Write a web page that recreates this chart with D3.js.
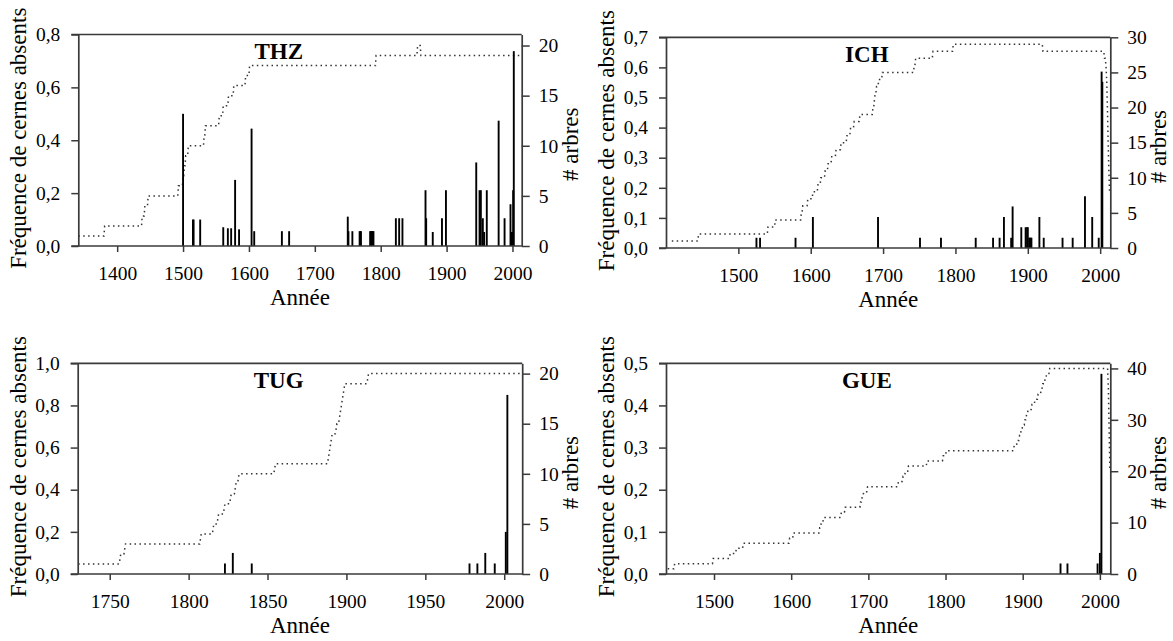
<!DOCTYPE html>
<html><head><meta charset="utf-8">
<script src="https://cdn.jsdelivr.net/npm/d3@7"></script>
<style>
html,body{margin:0;padding:0;background:#fff;}
svg{display:block;font-family:"Liberation Serif","Times New Roman",serif;}
</style></head><body>
<svg id="chart" width="1173" height="641"></svg>
<script>
// ---------- THZ ----------
const thzYearRange = [1341, 2014];
const thzBarYears = [1500,1515,1516,1526,1561,1568,1573,1579,1585,1604,1608,1650,1661,1750,1751,1757,1768,1769,1770,1784,1785,1786,1787,1788,1789,1823,1828,1833,1868,1869,1879,1893,1899,1945,1950,1952,1955,1957,1961,1979,1988,1997,1999,2000,2001,2002];
const thzBarFreq  = [0.5,0.1,0.1,0.1,0.071,0.067,0.067,0.25,0.063,0.444,0.056,0.056,0.056,0.111,0.056,0.056,0.056,0.056,0.056,0.056,0.056,0.056,0.056,0.056,0.056,0.105,0.105,0.105,0.211,0.105,0.053,0.105,0.211,0.316,0.211,0.211,0.105,0.053,0.211,0.474,0.105,0.158,0.053,0.053,0.211,0.737];
const thzTreeYears  = [1341,1381,1438,1442,1447,1493,1500,1502,1504,1508,1532,1534,1555,1561,1569,1577,1595,1601,1793,1856,1861,2013];
const thzTreeCounts = [1,2,3,4,5,6,7,8,9,10,11,12,13,14,15,16,17,18,19,20,19,19];
const thzFreqTicks = [0,0.2,0.4,0.6,0.8];
const thzTreeTicks = [0,5,10,15,20];
const thzYearTicks = [1400,1500,1600,1700,1800,1900,2000];

// ---------- ICH ----------
const ichYearRange = [1400, 2014];
const ichBarYears = [1525,1530,1579,1603,1693,1751,1780,1828,1852,1861,1867,1877,1879,1891,1897,1899,1900,1902,1903,1904,1905,1916,1922,1948,1962,1979,1989,1998,2002,2003];
const ichBarFreq  = [0.034,0.034,0.034,0.103,0.103,0.034,0.034,0.034,0.034,0.034,0.103,0.034,0.138,0.069,0.069,0.069,0.069,0.034,0.034,0.034,0.034,0.103,0.034,0.034,0.034,0.172,0.103,0.034,0.586,0.552];
const ichTreeYears  = [1408,1445,1541,1551,1587,1589,1596,1603,1610,1614,1620,1624,1629,1635,1642,1650,1655,1660,1668,1686,1688,1689,1691,1694,1699,1743,1745,1769,1797,1921,2006,2008,2009,2010,2011,2012,2013];
const ichTreeCounts = [1,2,3,4,5,6,7,8,9,10,11,12,13,14,15,16,17,18,19,20,21,22,23,24,25,26,27,28,29,28,27,26,24,20,15,11,8];
const ichFreqTicks = [0,0.1,0.2,0.3,0.4,0.5,0.6,0.7];
const ichTreeTicks = [0,5,10,15,20,25,30];
const ichYearTicks = [1500,1600,1700,1800,1900,2000];

// ---------- TUG ----------
const tugYearRange = [1729.7, 2011.4];
const tugBarYears = [1823,1828,1840,1978,1983,1988,1994,2001,2002];
const tugBarFreq  = [0.05,0.1,0.05,0.05,0.05,0.1,0.05,0.2,0.85];
const tugTreeYears  = [1730,1757,1760,1808,1816,1819,1823,1827,1830,1832,1855,1889,1890,1891,1894,1896,1897,1898,1899,1914,2011];
const tugTreeCounts = [1,2,3,4,5,6,7,8,9,10,11,12,13,14,15,16,17,18,19,20,20];
const tugFreqTicks = [0,0.2,0.4,0.6,0.8,1.0];
const tugTreeTicks = [0,5,10,15,20];
const tugYearTicks = [1750,1800,1850,1900,1950,2000];

// ---------- GUE ----------
const gueYearRange = [1437.8, 2013.5];
const gueBarYears = [1949,1958,1997,2000,2002];
const gueBarFreq  = [0.025,0.025,0.025,0.05,0.475];
const gueTreeYears  = [1440,1449,1499,1521,1529,1538,1598,1603,1637,1639,1642,1665,1670,1690,1692,1694,1699,1739,1745,1748,1752,1776,1797,1801,1889,1893,1896,1898,1900,1903,1905,1907,1912,1916,1920,1924,1926,1929,1931,1935,2011,2012,2013];
const gueTreeCounts = [1,2,3,4,5,6,7,8,9,10,11,12,13,14,15,16,17,18,19,20,21,22,23,24,25,26,27,28,29,30,31,32,33,34,35,36,37,38,39,40,36,28,20];
const gueFreqTicks = [0,0.1,0.2,0.3,0.4,0.5];
const gueTreeTicks = [0,10,20,30,40];
const gueYearTicks = [1500,1600,1700,1800,1900,2000];

// ---------- panels ----------
const panels = [
  {name:"THZ", box:{left:78.3,right:521.7,top:34.5,bottom:246},
   xr:thzYearRange, bx:thzBarYears, by:thzBarFreq, ty:thzTreeYears, tc:thzTreeCounts,
   yMax:0.8, rMax:21.1, yT:thzFreqTicks, rT:thzTreeTicks, xT:thzYearTicks},
  {name:"ICH", box:{left:666,right:1110.3,top:37.3,bottom:248},
   xr:ichYearRange, bx:ichBarYears, by:ichBarFreq, ty:ichTreeYears, tc:ichTreeCounts,
   yMax:0.7, rMax:30, yT:ichFreqTicks, rT:ichTreeTicks, xT:ichYearTicks},
  {name:"TUG", box:{left:77.7,right:522.2,top:363.3,bottom:574},
   xr:tugYearRange, bx:tugBarYears, by:tugBarFreq, ty:tugTreeYears, tc:tugTreeCounts,
   yMax:1.0, rMax:21.03, yT:tugFreqTicks, rT:tugTreeTicks, xT:tugYearTicks},
  {name:"GUE", box:{left:666,right:1110.3,top:363.3,bottom:574},
   xr:gueYearRange, bx:gueBarYears, by:gueBarFreq, ty:gueTreeYears, tc:gueTreeCounts,
   yMax:0.5, rMax:41, yT:gueFreqTicks, rT:gueTreeTicks, xT:gueYearTicks}
];

const svg = d3.select("#chart");
const lineCol = "#3a3a3a";
const fmtFreq = d => d3.format(".1f")(d).replace(".", ",");

// yearly stair: hold each count until the year before the next change
function stairs(years, counts) {
  const pts = [];
  for (let i = 0; i < years.length - 1; i++) {
    pts.push([years[i], counts[i]]);
    if (years[i + 1] - 1 > years[i]) pts.push([years[i + 1] - 1, counts[i]]);
  }
  pts.push([years[years.length - 1], counts[counts.length - 1]]);
  return pts;
}

panels.forEach(p => {
  const b = p.box;
  const x = d3.scaleLinear().domain(p.xr).range([b.left, b.right]);
  const y = d3.scaleLinear().domain([0, p.yMax]).range([b.bottom, b.top]);
  const r = d3.scaleLinear().domain([0, p.rMax]).range([b.bottom, b.top]);
  const g = svg.append("g");

  // tree count (dotted)
  const line = d3.line().x(d => x(d[0])).y(d => r(d[1]));
  g.append("path").datum(stairs(p.ty, p.tc))
    .attr("d", line).attr("fill", "none")
    .attr("stroke", "#333").attr("stroke-width", 1.5)
    .attr("stroke-dasharray", "1.5,3.4");

  // absent ring frequency bars
  g.selectAll("line.bar").data(p.bx.map((yr, i) => [yr, p.by[i]]))
    .enter().append("line").attr("class", "bar")
    .attr("x1", d => x(d[0])).attr("x2", d => x(d[0]))
    .attr("y1", y(0)).attr("y2", d => y(d[1]))
    .attr("stroke", "#000").attr("stroke-width", 1.9);

  // frame lines
  g.append("line").attr("x1", b.left - 7).attr("x2", b.right)
    .attr("y1", b.top).attr("y2", b.top)
    .attr("stroke", lineCol).attr("stroke-width", 1.7);
  g.append("line").attr("x1", b.left - 7).attr("x2", b.right)
    .attr("y1", b.bottom).attr("y2", b.bottom)
    .attr("stroke", lineCol).attr("stroke-width", 1.7);

  const ax = g.append("g").attr("transform", `translate(0,${b.bottom})`)
    .call(d3.axisBottom(x).tickValues(p.xT).tickFormat(d3.format("d"))
      .tickSize(6).tickSizeOuter(0).tickPadding(14));
  const ay = g.append("g").attr("transform", `translate(${b.left},0)`)
    .call(d3.axisLeft(y).tickValues(p.yT).tickFormat(fmtFreq)
      .tickSize(7).tickSizeOuter(0).tickPadding(11));
  const ar = g.append("g").attr("transform", `translate(${b.right},0)`)
    .call(d3.axisRight(r).tickValues(p.rT).tickFormat(d3.format("d"))
      .tickSize(8).tickSizeOuter(0).tickPadding(9));
  [ax, ay, ar].forEach(a => {
    a.select(".domain").attr("stroke", lineCol).attr("stroke-width", 1.7);
    a.selectAll(".tick line").attr("stroke", lineCol).attr("stroke-width", 1.5);
    a.selectAll(".tick text").attr("fill", "#000")
      .style("font-family", '"Liberation Serif","Times New Roman",serif')
      .style("font-size", "19.5px");
  });
  ax.select(".domain").remove();

  // titles
  const cx = (b.left + b.right) / 2, cy = (b.top + b.bottom) / 2;
  g.append("text").attr("x", b.left + 0.452 * (b.right - b.left)).attr("y", b.top + 24.5)
    .attr("text-anchor", "middle").style("font-size", "23px").style("font-weight", "bold")
    .text(p.name);
  g.append("text").attr("x", cx).attr("y", b.bottom + 59)
    .attr("text-anchor", "middle").style("font-size", "23px").text("Année");
  g.append("text").attr("transform", `translate(${b.left - 52},${cy - 2}) rotate(-90)`)
    .attr("text-anchor", "middle").style("font-size", "23px")
    .text("Fréquence de cernes absents");
  g.append("text").attr("transform", `translate(${b.right + 56},${cy + 4}) rotate(-90)`)
    .attr("text-anchor", "middle").style("font-size", "23px").text("# arbres");
});
</script>
</body></html>
